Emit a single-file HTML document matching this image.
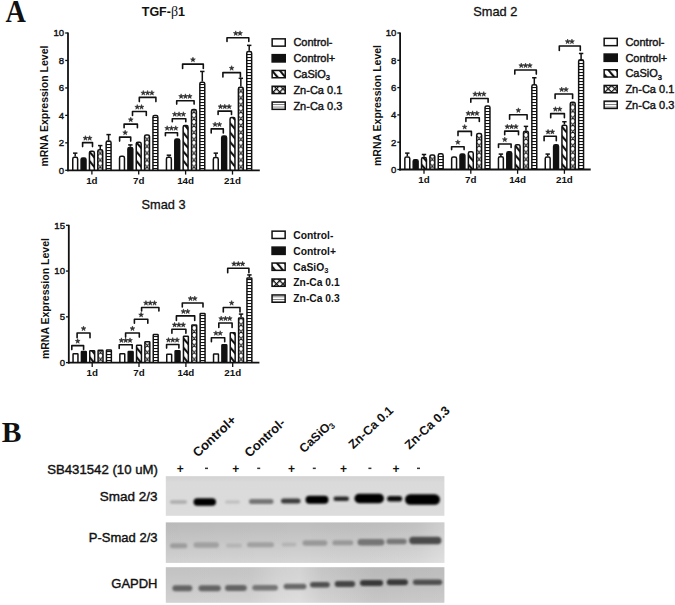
<!DOCTYPE html>
<html><head><meta charset="utf-8"><title>Figure</title>
<style>html,body{margin:0;padding:0;background:#fff;width:675px;height:605px;overflow:hidden}svg{display:block;font-family:"Liberation Sans", sans-serif}</style>
</head><body>
<svg width="675" height="605" viewBox="0 0 675 605">

<defs>
 <pattern id="pdiag" patternUnits="userSpaceOnUse" width="6" height="6" patternTransform="rotate(-40)">
  <rect width="6" height="6" fill="#fff"/><rect x="0" y="0" width="2.1" height="6" fill="#111"/>
 </pattern>
 <pattern id="pcross" patternUnits="userSpaceOnUse" width="4.6" height="4.6" patternTransform="rotate(45)">
  <rect width="4.6" height="4.6" fill="#fff"/><rect x="0" y="0" width="1.7" height="4.6" fill="#111"/><rect x="0" y="0" width="4.6" height="1.7" fill="#111"/>
 </pattern>
 <pattern id="phstr" patternUnits="userSpaceOnUse" width="10" height="3.0">
  <rect width="10" height="3.0" fill="#fff"/><rect x="0" y="0" width="10" height="1.05" fill="#111"/>
 </pattern>
 <pattern id="pldiag" patternUnits="userSpaceOnUse" width="6" height="6" patternTransform="rotate(-40)">
  <rect width="6" height="6" fill="#fff"/><rect x="0" y="0" width="2.1" height="6" fill="#111"/>
 </pattern>
 <pattern id="plcross" patternUnits="userSpaceOnUse" width="4.6" height="4.6" patternTransform="rotate(45)">
  <rect width="4.6" height="4.6" fill="#fff"/><rect x="0" y="0" width="1.3" height="4.6" fill="#111"/><rect x="0" y="0" width="4.6" height="1.3" fill="#111"/>
 </pattern>
 <pattern id="plhstr" patternUnits="userSpaceOnUse" width="10" height="2.6">
  <rect width="10" height="2.6" fill="#fff"/><rect x="0" y="0" width="10" height="0.9" fill="#777"/>
 </pattern>
 <linearGradient id="g1" x1="0" y1="0" x2="0" y2="1">
  <stop offset="0" stop-color="#d2d2d2"/><stop offset="0.15" stop-color="#dadada"/><stop offset="1" stop-color="#dcdcdc"/>
 </linearGradient>
 <linearGradient id="g2" x1="0" y1="0" x2="0" y2="1">
  <stop offset="0" stop-color="#bdbdbd"/><stop offset="0.5" stop-color="#c9c9c9"/><stop offset="1" stop-color="#d6d6d6"/>
 </linearGradient>
 <linearGradient id="g3" x1="0" y1="0" x2="0" y2="1">
  <stop offset="0" stop-color="#c2c2c2"/><stop offset="0.6" stop-color="#cacaca"/><stop offset="1" stop-color="#d2d2d2"/>
 </linearGradient>
 <linearGradient id="h3" x1="0" y1="0" x2="1" y2="0">
  <stop offset="0" stop-color="#fff" stop-opacity="0"/><stop offset="0.3" stop-color="#fff" stop-opacity="0.03"/>
  <stop offset="0.4" stop-color="#fff" stop-opacity="0.22"/><stop offset="0.48" stop-color="#fff" stop-opacity="0.28"/>
  <stop offset="0.56" stop-color="#fff" stop-opacity="0.04"/><stop offset="0.75" stop-color="#000" stop-opacity="0.05"/>
  <stop offset="1" stop-color="#000" stop-opacity="0.03"/>
 </linearGradient>
 <linearGradient id="h2" x1="0" y1="0" x2="1" y2="0">
  <stop offset="0" stop-color="#000" stop-opacity="0.02"/><stop offset="0.5" stop-color="#000" stop-opacity="0"/>
  <stop offset="0.9" stop-color="#fff" stop-opacity="0.05"/><stop offset="1" stop-color="#fff" stop-opacity="0.25"/>
 </linearGradient>
 <filter id="blur1" x="-10%" y="-50%" width="120%" height="200%"><feGaussianBlur stdDeviation="1.3"/></filter>
<pattern id="cx1" patternUnits="userSpaceOnUse" x="97.05" y="170.3" width="6.4" height="6.9"><rect width="6.4" height="6.9" fill="#fff"/><path d="M0 0L6.4 6.9M6.4 0L0 6.9M-1 -1L1 1M5.4 5.9L7.4 7.9" stroke="#111" stroke-width="0.95"/></pattern>
<pattern id="cx2" patternUnits="userSpaceOnUse" x="143.85" y="170.3" width="6.4" height="6.9"><rect width="6.4" height="6.9" fill="#fff"/><path d="M0 0L6.4 6.9M6.4 0L0 6.9M-1 -1L1 1M5.4 5.9L7.4 7.9" stroke="#111" stroke-width="0.95"/></pattern>
<pattern id="cx3" patternUnits="userSpaceOnUse" x="190.75" y="170.3" width="6.4" height="6.9"><rect width="6.4" height="6.9" fill="#fff"/><path d="M0 0L6.4 6.9M6.4 0L0 6.9M-1 -1L1 1M5.4 5.9L7.4 7.9" stroke="#111" stroke-width="0.95"/></pattern>
<pattern id="cx4" patternUnits="userSpaceOnUse" x="237.65" y="170.3" width="6.4" height="6.9"><rect width="6.4" height="6.9" fill="#fff"/><path d="M0 0L6.4 6.9M6.4 0L0 6.9M-1 -1L1 1M5.4 5.9L7.4 7.9" stroke="#111" stroke-width="0.95"/></pattern>
<pattern id="cx5" patternUnits="userSpaceOnUse" x="429.15" y="169.5" width="6.4" height="6.9"><rect width="6.4" height="6.9" fill="#fff"/><path d="M0 0L6.4 6.9M6.4 0L0 6.9M-1 -1L1 1M5.4 5.9L7.4 7.9" stroke="#111" stroke-width="0.95"/></pattern>
<pattern id="cx6" patternUnits="userSpaceOnUse" x="475.95" y="169.5" width="6.4" height="6.9"><rect width="6.4" height="6.9" fill="#fff"/><path d="M0 0L6.4 6.9M6.4 0L0 6.9M-1 -1L1 1M5.4 5.9L7.4 7.9" stroke="#111" stroke-width="0.95"/></pattern>
<pattern id="cx7" patternUnits="userSpaceOnUse" x="522.75" y="169.5" width="6.4" height="6.9"><rect width="6.4" height="6.9" fill="#fff"/><path d="M0 0L6.4 6.9M6.4 0L0 6.9M-1 -1L1 1M5.4 5.9L7.4 7.9" stroke="#111" stroke-width="0.95"/></pattern>
<pattern id="cx8" patternUnits="userSpaceOnUse" x="569.55" y="169.5" width="6.4" height="6.9"><rect width="6.4" height="6.9" fill="#fff"/><path d="M0 0L6.4 6.9M6.4 0L0 6.9M-1 -1L1 1M5.4 5.9L7.4 7.9" stroke="#111" stroke-width="0.95"/></pattern>
<pattern id="cx9" patternUnits="userSpaceOnUse" x="97.35" y="362.6" width="6.4" height="6.9"><rect width="6.4" height="6.9" fill="#fff"/><path d="M0 0L6.4 6.9M6.4 0L0 6.9M-1 -1L1 1M5.4 5.9L7.4 7.9" stroke="#111" stroke-width="0.95"/></pattern>
<pattern id="cx10" patternUnits="userSpaceOnUse" x="144.15" y="362.6" width="6.4" height="6.9"><rect width="6.4" height="6.9" fill="#fff"/><path d="M0 0L6.4 6.9M6.4 0L0 6.9M-1 -1L1 1M5.4 5.9L7.4 7.9" stroke="#111" stroke-width="0.95"/></pattern>
<pattern id="cx11" patternUnits="userSpaceOnUse" x="191.05" y="362.6" width="6.4" height="6.9"><rect width="6.4" height="6.9" fill="#fff"/><path d="M0 0L6.4 6.9M6.4 0L0 6.9M-1 -1L1 1M5.4 5.9L7.4 7.9" stroke="#111" stroke-width="0.95"/></pattern>
<pattern id="cx12" patternUnits="userSpaceOnUse" x="237.85" y="362.6" width="6.4" height="6.9"><rect width="6.4" height="6.9" fill="#fff"/><path d="M0 0L6.4 6.9M6.4 0L0 6.9M-1 -1L1 1M5.4 5.9L7.4 7.9" stroke="#111" stroke-width="0.95"/></pattern></defs>

<rect width="675" height="605" fill="#fff"/>
<text transform="translate(5.4 22.4) scale(0.88 1)" font-family='Liberation Serif' font-size="32" font-weight="bold" fill="#111">A</text>
<text x="1.8" y="441.5" font-family='Liberation Serif' font-size="29.5" font-weight="bold" fill="#111">B</text>
<path d="M75.2 156.57V153.14" stroke="#111" stroke-width="1.5"/><path d="M73 153.14H77.4" stroke="#111" stroke-width="1.5"/><path d="M72.75 170.3V158.92Q72.75 157.32 74.35 157.32H76.05Q77.65 157.32 77.65 158.92V170.3" fill="#fff" stroke="#111" stroke-width="1.5"/><path d="M81.1 170.3V159.61Q81.1 158.01 82.7 158.01H84.4Q86 158.01 86 159.61V170.3" fill="#111" stroke="#111" stroke-width="1.5"/><path d="M89.45 170.3V152.74Q89.45 151.14 91.05 151.14H92.75Q94.35 151.14 94.35 152.74V170.3" fill="url(#pdiag)" stroke="#111" stroke-width="1.5"/><path d="M100.25 149.02V145.59" stroke="#111" stroke-width="1.5"/><path d="M98.05 145.59H102.45" stroke="#111" stroke-width="1.5"/><path d="M97.8 170.3V151.37Q97.8 149.77 99.4 149.77H101.1Q102.7 149.77 102.7 151.37V170.3" fill="url(#cx1)" stroke="#111" stroke-width="1.5"/><path d="M108.6 140.37V134.6" stroke="#111" stroke-width="1.5"/><path d="M106.4 134.6H110.8" stroke="#111" stroke-width="1.5"/><path d="M106.15 170.3V142.72Q106.15 141.12 107.75 141.12H109.45Q111.05 141.12 111.05 142.72V170.3" fill="url(#phstr)" stroke="#111" stroke-width="1.5"/><path d="M119.55 170.3V157.96Q119.55 156.36 121.15 156.36H122.85Q124.45 156.36 124.45 157.96V170.3" fill="#fff" stroke="#111" stroke-width="1.5"/><path d="M130.35 146.68V144.9" stroke="#111" stroke-width="1.5"/><path d="M128.15 144.9H132.55" stroke="#111" stroke-width="1.5"/><path d="M127.9 170.3V149.03Q127.9 147.43 129.5 147.43H131.2Q132.8 147.43 132.8 149.03V170.3" fill="#111" stroke="#111" stroke-width="1.5"/><path d="M136.25 170.3V143.82Q136.25 142.22 137.85 142.22H139.55Q141.15 142.22 141.15 143.82V170.3" fill="url(#pdiag)" stroke="#111" stroke-width="1.5"/><path d="M144.6 170.3V136.54Q144.6 134.94 146.2 134.94H147.9Q149.5 134.94 149.5 136.54V170.3" fill="url(#cx2)" stroke="#111" stroke-width="1.5"/><path d="M152.95 170.3V117.18Q152.95 115.58 154.55 115.58H156.25Q157.85 115.58 157.85 117.18V170.3" fill="url(#phstr)" stroke="#111" stroke-width="1.5"/><path d="M168.9 156.57V155.2" stroke="#111" stroke-width="1.5"/><path d="M166.7 155.2H171.1" stroke="#111" stroke-width="1.5"/><path d="M166.45 170.3V158.92Q166.45 157.32 168.05 157.32H169.75Q171.35 157.32 171.35 158.92V170.3" fill="#fff" stroke="#111" stroke-width="1.5"/><path d="M174.8 170.3V140.52Q174.8 138.92 176.4 138.92H178.1Q179.7 138.92 179.7 140.52V170.3" fill="#111" stroke="#111" stroke-width="1.5"/><path d="M183.15 170.3V127.2Q183.15 125.6 184.75 125.6H186.45Q188.05 125.6 188.05 127.2V170.3" fill="url(#pdiag)" stroke="#111" stroke-width="1.5"/><path d="M191.5 170.3V111.14Q191.5 109.54 193.1 109.54H194.8Q196.4 109.54 196.4 111.14V170.3" fill="url(#cx3)" stroke="#111" stroke-width="1.5"/><path d="M202.3 81.47V71.44" stroke="#111" stroke-width="1.5"/><path d="M200.1 71.44H204.5" stroke="#111" stroke-width="1.5"/><path d="M199.85 170.3V83.82Q199.85 82.22 201.45 82.22H203.15Q204.75 82.22 204.75 83.82V170.3" fill="url(#phstr)" stroke="#111" stroke-width="1.5"/><path d="M215.8 156.84V153.14" stroke="#111" stroke-width="1.5"/><path d="M213.6 153.14H218" stroke="#111" stroke-width="1.5"/><path d="M213.35 170.3V159.19Q213.35 157.59 214.95 157.59H216.65Q218.25 157.59 218.25 159.19V170.3" fill="#fff" stroke="#111" stroke-width="1.5"/><path d="M221.7 170.3V137.64Q221.7 136.04 223.3 136.04H225Q226.6 136.04 226.6 137.64V170.3" fill="#111" stroke="#111" stroke-width="1.5"/><path d="M230.05 170.3V119.1Q230.05 117.5 231.65 117.5H233.35Q234.95 117.5 234.95 119.1V170.3" fill="url(#pdiag)" stroke="#111" stroke-width="1.5"/><path d="M240.85 86.55V78.31" stroke="#111" stroke-width="1.5"/><path d="M238.65 78.31H243.05" stroke="#111" stroke-width="1.5"/><path d="M238.4 170.3V88.9Q238.4 87.3 240 87.3H241.7Q243.3 87.3 243.3 88.9V170.3" fill="url(#cx4)" stroke="#111" stroke-width="1.5"/><path d="M249.2 50.85V45.36" stroke="#111" stroke-width="1.5"/><path d="M247 45.36H251.4" stroke="#111" stroke-width="1.5"/><path d="M246.75 170.3V53.2Q246.75 51.6 248.35 51.6H250.05Q251.65 51.6 251.65 53.2V170.3" fill="url(#phstr)" stroke="#111" stroke-width="1.5"/><path d="M68 32.5V171.2" stroke="#111" stroke-width="1.8"/><path d="M67.1 170.3H259.8" stroke="#111" stroke-width="1.8"/><path d="M65.2 170.3H68" stroke="#111" stroke-width="1.3"/><text x="64.2" y="173.7" text-anchor="end" font-size="9.6" stroke="#111" stroke-width="0.4" fill="#111">0</text><path d="M65.2 142.84H68" stroke="#111" stroke-width="1.3"/><text x="64.2" y="146.24" text-anchor="end" font-size="9.6" stroke="#111" stroke-width="0.4" fill="#111">2</text><path d="M65.2 115.38H68" stroke="#111" stroke-width="1.3"/><text x="64.2" y="118.78" text-anchor="end" font-size="9.6" stroke="#111" stroke-width="0.4" fill="#111">4</text><path d="M65.2 87.92H68" stroke="#111" stroke-width="1.3"/><text x="64.2" y="91.32" text-anchor="end" font-size="9.6" stroke="#111" stroke-width="0.4" fill="#111">6</text><path d="M65.2 60.46H68" stroke="#111" stroke-width="1.3"/><text x="64.2" y="63.86" text-anchor="end" font-size="9.6" stroke="#111" stroke-width="0.4" fill="#111">8</text><path d="M65.2 33H68" stroke="#111" stroke-width="1.3"/><text x="64.2" y="36.4" text-anchor="end" font-size="9.6" stroke="#111" stroke-width="0.4" fill="#111">10</text><path d="M91.9 170.3V174.6" stroke="#111" stroke-width="1.3"/><text x="91.9" y="184.1" text-anchor="middle" font-size="9.8" font-weight="bold" fill="#111">1d</text><path d="M138.7 170.3V174.6" stroke="#111" stroke-width="1.3"/><text x="138.7" y="184.1" text-anchor="middle" font-size="9.8" font-weight="bold" fill="#111">7d</text><path d="M185.6 170.3V174.6" stroke="#111" stroke-width="1.3"/><text x="185.6" y="184.1" text-anchor="middle" font-size="9.8" font-weight="bold" fill="#111">14d</text><path d="M232.5 170.3V174.6" stroke="#111" stroke-width="1.3"/><text x="232.5" y="184.1" text-anchor="middle" font-size="9.8" font-weight="bold" fill="#111">21d</text><text transform="translate(48.2 106.1) rotate(-90)" text-anchor="middle" font-size="10.5" font-weight="bold" fill="#111">mRNA Expression Level</text><path d="M82.6 146.6V142.6H92.5V146.6" fill="none" stroke="#111" stroke-width="1.6" stroke-linejoin="round" stroke-linecap="round"/><polygon points="85.4,135.65 86,137.37 87.83,137.41 86.37,138.52 86.9,140.26 85.4,139.22 83.9,140.26 84.43,138.52 82.97,137.41 84.8,137.37" fill="#333" stroke="#222" stroke-width="0.5"/><polygon points="89.7,135.65 90.3,137.37 92.13,137.41 90.67,138.52 91.2,140.26 89.7,139.22 88.2,140.26 88.73,138.52 87.27,137.41 89.1,137.37" fill="#333" stroke="#222" stroke-width="0.5"/><path d="M119.6 141.1V137.1H130.7V141.1" fill="none" stroke="#111" stroke-width="1.6" stroke-linejoin="round" stroke-linecap="round"/><polygon points="125.15,130.15 125.75,131.87 127.58,131.91 126.12,133.02 126.65,134.76 125.15,133.72 123.65,134.76 124.18,133.02 122.72,131.91 124.55,131.87" fill="#333" stroke="#222" stroke-width="0.5"/><path d="M124.1 127.8V124.1H137.4V127.8" fill="none" stroke="#111" stroke-width="1.6" stroke-linejoin="round" stroke-linecap="round"/><polygon points="130.75,117.15 131.35,118.87 133.18,118.91 131.72,120.02 132.25,121.76 130.75,120.72 129.25,121.76 129.78,120.02 128.32,118.91 130.15,118.87" fill="#333" stroke="#222" stroke-width="0.5"/><path d="M132.5 115.5V111.5H146.3V115.5" fill="none" stroke="#111" stroke-width="1.6" stroke-linejoin="round" stroke-linecap="round"/><polygon points="137.25,104.55 137.85,106.27 139.68,106.31 138.22,107.42 138.75,109.16 137.25,108.12 135.75,109.16 136.28,107.42 134.82,106.31 136.65,106.27" fill="#333" stroke="#222" stroke-width="0.5"/><polygon points="141.55,104.55 142.15,106.27 143.98,106.31 142.52,107.42 143.05,109.16 141.55,108.12 140.05,109.16 140.58,107.42 139.12,106.31 140.95,106.27" fill="#333" stroke="#222" stroke-width="0.5"/><path d="M139.3 101.6V97.4H155.9V101.6" fill="none" stroke="#111" stroke-width="1.6" stroke-linejoin="round" stroke-linecap="round"/><polygon points="143.3,90.45 143.9,92.17 145.73,92.21 144.27,93.32 144.8,95.06 143.3,94.02 141.8,95.06 142.33,93.32 140.87,92.21 142.7,92.17" fill="#333" stroke="#222" stroke-width="0.5"/><polygon points="147.6,90.45 148.2,92.17 150.03,92.21 148.57,93.32 149.1,95.06 147.6,94.02 146.1,95.06 146.63,93.32 145.17,92.21 147,92.17" fill="#333" stroke="#222" stroke-width="0.5"/><polygon points="151.9,90.45 152.5,92.17 154.33,92.21 152.87,93.32 153.4,95.06 151.9,94.02 150.4,95.06 150.93,93.32 149.47,92.21 151.3,92.17" fill="#333" stroke="#222" stroke-width="0.5"/><path d="M165.4 135.8V132.7H177.5V135.8" fill="none" stroke="#111" stroke-width="1.6" stroke-linejoin="round" stroke-linecap="round"/><polygon points="167.15,125.75 167.75,127.47 169.58,127.51 168.12,128.62 168.65,130.36 167.15,129.32 165.65,130.36 166.18,128.62 164.72,127.51 166.55,127.47" fill="#333" stroke="#222" stroke-width="0.5"/><polygon points="171.45,125.75 172.05,127.47 173.88,127.51 172.42,128.62 172.95,130.36 171.45,129.32 169.95,130.36 170.48,128.62 169.02,127.51 170.85,127.47" fill="#333" stroke="#222" stroke-width="0.5"/><polygon points="175.75,125.75 176.35,127.47 178.18,127.51 176.72,128.62 177.25,130.36 175.75,129.32 174.25,130.36 174.78,128.62 173.32,127.51 175.15,127.47" fill="#333" stroke="#222" stroke-width="0.5"/><path d="M172.3 121.8V118.7H185.8V121.8" fill="none" stroke="#111" stroke-width="1.6" stroke-linejoin="round" stroke-linecap="round"/><polygon points="174.75,111.75 175.35,113.47 177.18,113.51 175.72,114.62 176.25,116.36 174.75,115.32 173.25,116.36 173.78,114.62 172.32,113.51 174.15,113.47" fill="#333" stroke="#222" stroke-width="0.5"/><polygon points="179.05,111.75 179.65,113.47 181.48,113.51 180.02,114.62 180.55,116.36 179.05,115.32 177.55,116.36 178.08,114.62 176.62,113.51 178.45,113.47" fill="#333" stroke="#222" stroke-width="0.5"/><polygon points="183.35,111.75 183.95,113.47 185.78,113.51 184.32,114.62 184.85,116.36 183.35,115.32 181.85,116.36 182.38,114.62 180.92,113.51 182.75,113.47" fill="#333" stroke="#222" stroke-width="0.5"/><path d="M176.7 104.1V100.8H194.1V104.1" fill="none" stroke="#111" stroke-width="1.6" stroke-linejoin="round" stroke-linecap="round"/><polygon points="181.1,93.85 181.7,95.57 183.53,95.61 182.07,96.72 182.6,98.46 181.1,97.42 179.6,98.46 180.13,96.72 178.67,95.61 180.5,95.57" fill="#333" stroke="#222" stroke-width="0.5"/><polygon points="185.4,93.85 186,95.57 187.83,95.61 186.37,96.72 186.9,98.46 185.4,97.42 183.9,98.46 184.43,96.72 182.97,95.61 184.8,95.57" fill="#333" stroke="#222" stroke-width="0.5"/><polygon points="189.7,93.85 190.3,95.57 192.13,95.61 190.67,96.72 191.2,98.46 189.7,97.42 188.2,98.46 188.73,96.72 187.27,95.61 189.1,95.57" fill="#333" stroke="#222" stroke-width="0.5"/><path d="M182.6 68.5V64.1H203.3V68.5" fill="none" stroke="#111" stroke-width="1.6" stroke-linejoin="round" stroke-linecap="round"/><polygon points="192.95,57.15 193.55,58.87 195.38,58.91 193.92,60.02 194.45,61.76 192.95,60.72 191.45,61.76 191.98,60.02 190.52,58.91 192.35,58.87" fill="#333" stroke="#222" stroke-width="0.5"/><path d="M211.2 132.9V128.9H223.3V132.9" fill="none" stroke="#111" stroke-width="1.6" stroke-linejoin="round" stroke-linecap="round"/><polygon points="215.1,121.95 215.7,123.67 217.53,123.71 216.07,124.82 216.6,126.56 215.1,125.52 213.6,126.56 214.13,124.82 212.67,123.71 214.5,123.67" fill="#333" stroke="#222" stroke-width="0.5"/><polygon points="219.4,121.95 220,123.67 221.83,123.71 220.37,124.82 220.9,126.56 219.4,125.52 217.9,126.56 218.43,124.82 216.97,123.71 218.8,123.67" fill="#333" stroke="#222" stroke-width="0.5"/><path d="M218.1 114.5V111.1H231.5V114.5" fill="none" stroke="#111" stroke-width="1.6" stroke-linejoin="round" stroke-linecap="round"/><polygon points="220.5,104.15 221.1,105.87 222.93,105.91 221.47,107.02 222,108.76 220.5,107.72 219,108.76 219.53,107.02 218.07,105.91 219.9,105.87" fill="#333" stroke="#222" stroke-width="0.5"/><polygon points="224.8,104.15 225.4,105.87 227.23,105.91 225.77,107.02 226.3,108.76 224.8,107.72 223.3,108.76 223.83,107.02 222.37,105.91 224.2,105.87" fill="#333" stroke="#222" stroke-width="0.5"/><polygon points="229.1,104.15 229.7,105.87 231.53,105.91 230.07,107.02 230.6,108.76 229.1,107.72 227.6,108.76 228.13,107.02 226.67,105.91 228.5,105.87" fill="#333" stroke="#222" stroke-width="0.5"/><path d="M222.9 77V72.6H240.4V77" fill="none" stroke="#111" stroke-width="1.6" stroke-linejoin="round" stroke-linecap="round"/><polygon points="231.65,65.65 232.25,67.37 234.08,67.41 232.62,68.52 233.15,70.26 231.65,69.22 230.15,70.26 230.68,68.52 229.22,67.41 231.05,67.37" fill="#333" stroke="#222" stroke-width="0.5"/><path d="M227 41.5V37.8H248.8V41.5" fill="none" stroke="#111" stroke-width="1.6" stroke-linejoin="round" stroke-linecap="round"/><polygon points="235.75,30.85 236.35,32.57 238.18,32.61 236.72,33.72 237.25,35.46 235.75,34.42 234.25,35.46 234.78,33.72 233.32,32.61 235.15,32.57" fill="#333" stroke="#222" stroke-width="0.5"/><polygon points="240.05,30.85 240.65,32.57 242.48,32.61 241.02,33.72 241.55,35.46 240.05,34.42 238.55,35.46 239.08,33.72 237.62,32.61 239.45,32.57" fill="#333" stroke="#222" stroke-width="0.5"/><text x="163.4" y="16" text-anchor="middle" fill="#111" font-size="12.5" font-weight="bold">TGF-<tspan font-family="Liberation Serif" font-weight="normal" font-size="14">&#946;</tspan>1</text><rect x="272.15" y="38.85" width="13.1" height="7.3" fill="#fff" stroke="#111" stroke-width="1.5"/><text x="293.4" y="46.3" fill="#111" font-size="11" stroke="#111" stroke-width="0.4">Control-</text><rect x="272.15" y="54.65" width="13.1" height="7.3" fill="#111" stroke="#111" stroke-width="1.5"/><text x="293.4" y="62.1" fill="#111" font-size="11" stroke="#111" stroke-width="0.4">Control+</text><rect x="272.15" y="70.45" width="13.1" height="7.3" fill="url(#pldiag)" stroke="#111" stroke-width="1.5"/><text x="293.4" y="77.9" fill="#111" font-size="11" stroke="#111" stroke-width="0.4">CaSiO<tspan font-size="7.5" dy="2.5">3</tspan></text><rect x="272.15" y="86.25" width="13.1" height="7.3" fill="url(#plcross)" stroke="#111" stroke-width="1.5"/><text x="293.4" y="93.7" fill="#111" font-size="11" stroke="#111" stroke-width="0.4">Zn-Ca 0.1</text><rect x="272.15" y="102.05" width="13.1" height="7.3" fill="url(#plhstr)" stroke="#111" stroke-width="1.5"/><text x="293.4" y="109.5" fill="#111" font-size="11" stroke="#111" stroke-width="0.4">Zn-Ca 0.3</text>
<path d="M407.3 156.26V153.12" stroke="#111" stroke-width="1.5"/><path d="M405.1 153.12H409.5" stroke="#111" stroke-width="1.5"/><path d="M404.85 169.5V158.61Q404.85 157.01 406.45 157.01H408.15Q409.75 157.01 409.75 158.61V169.5" fill="#fff" stroke="#111" stroke-width="1.5"/><path d="M413.2 169.5V161.34Q413.2 159.74 414.8 159.74H416.5Q418.1 159.74 418.1 161.34V169.5" fill="#111" stroke="#111" stroke-width="1.5"/><path d="M424 156.81V154.48" stroke="#111" stroke-width="1.5"/><path d="M421.8 154.48H426.2" stroke="#111" stroke-width="1.5"/><path d="M421.55 169.5V159.16Q421.55 157.56 423.15 157.56H424.85Q426.45 157.56 426.45 159.16V169.5" fill="url(#pdiag)" stroke="#111" stroke-width="1.5"/><path d="M429.9 169.5V156.56Q429.9 154.96 431.5 154.96H433.2Q434.8 154.96 434.8 156.56V169.5" fill="url(#cx5)" stroke="#111" stroke-width="1.5"/><path d="M438.25 169.5V155.47Q438.25 153.87 439.85 153.87H441.55Q443.15 153.87 443.15 155.47V169.5" fill="url(#phstr)" stroke="#111" stroke-width="1.5"/><path d="M451.65 169.5V158.61Q451.65 157.01 453.25 157.01H454.95Q456.55 157.01 456.55 158.61V169.5" fill="#fff" stroke="#111" stroke-width="1.5"/><path d="M460 169.5V155.61Q460 154.01 461.6 154.01H463.3Q464.9 154.01 464.9 155.61V169.5" fill="#111" stroke="#111" stroke-width="1.5"/><path d="M468.35 169.5V153.42Q468.35 151.82 469.95 151.82H471.65Q473.25 151.82 473.25 153.42V169.5" fill="url(#pdiag)" stroke="#111" stroke-width="1.5"/><path d="M476.7 169.5V134.99Q476.7 133.39 478.3 133.39H480Q481.6 133.39 481.6 134.99V169.5" fill="url(#cx6)" stroke="#111" stroke-width="1.5"/><path d="M485.05 169.5V107.56Q485.05 105.96 486.65 105.96H488.35Q489.95 105.96 489.95 107.56V169.5" fill="url(#phstr)" stroke="#111" stroke-width="1.5"/><path d="M500.9 155.99V154.08" stroke="#111" stroke-width="1.5"/><path d="M498.7 154.08H503.1" stroke="#111" stroke-width="1.5"/><path d="M498.45 169.5V158.34Q498.45 156.74 500.05 156.74H501.75Q503.35 156.74 503.35 158.34V169.5" fill="#fff" stroke="#111" stroke-width="1.5"/><path d="M506.8 169.5V153.42Q506.8 151.82 508.4 151.82H510.1Q511.7 151.82 511.7 153.42V169.5" fill="#111" stroke="#111" stroke-width="1.5"/><path d="M515.15 169.5V146.32Q515.15 144.72 516.75 144.72H518.45Q520.05 144.72 520.05 146.32V169.5" fill="url(#pdiag)" stroke="#111" stroke-width="1.5"/><path d="M525.95 130.46V126.37" stroke="#111" stroke-width="1.5"/><path d="M523.75 126.37H528.15" stroke="#111" stroke-width="1.5"/><path d="M523.5 169.5V132.81Q523.5 131.21 525.1 131.21H526.8Q528.4 131.21 528.4 132.81V169.5" fill="url(#cx7)" stroke="#111" stroke-width="1.5"/><path d="M534.3 84.05V77.77" stroke="#111" stroke-width="1.5"/><path d="M532.1 77.77H536.5" stroke="#111" stroke-width="1.5"/><path d="M531.85 169.5V86.4Q531.85 84.8 533.45 84.8H535.15Q536.75 84.8 536.75 86.4V169.5" fill="url(#phstr)" stroke="#111" stroke-width="1.5"/><path d="M547.7 156.26V154.08" stroke="#111" stroke-width="1.5"/><path d="M545.5 154.08H549.9" stroke="#111" stroke-width="1.5"/><path d="M545.25 169.5V158.61Q545.25 157.01 546.85 157.01H548.55Q550.15 157.01 550.15 158.61V169.5" fill="#fff" stroke="#111" stroke-width="1.5"/><path d="M553.6 169.5V146.46Q553.6 144.86 555.2 144.86H556.9Q558.5 144.86 558.5 146.46V169.5" fill="#111" stroke="#111" stroke-width="1.5"/><path d="M564.4 124.45V121.72" stroke="#111" stroke-width="1.5"/><path d="M562.2 121.72H566.6" stroke="#111" stroke-width="1.5"/><path d="M561.95 169.5V126.8Q561.95 125.2 563.55 125.2H565.25Q566.85 125.2 566.85 126.8V169.5" fill="url(#pdiag)" stroke="#111" stroke-width="1.5"/><path d="M570.3 169.5V103.87Q570.3 102.27 571.9 102.27H573.6Q575.2 102.27 575.2 103.87V169.5" fill="url(#cx8)" stroke="#111" stroke-width="1.5"/><path d="M581.1 58.94V53.47" stroke="#111" stroke-width="1.5"/><path d="M578.9 53.47H583.3" stroke="#111" stroke-width="1.5"/><path d="M578.65 169.5V61.29Q578.65 59.69 580.25 59.69H581.95Q583.55 59.69 583.55 61.29V169.5" fill="url(#phstr)" stroke="#111" stroke-width="1.5"/><path d="M400.1 32.5V170.4" stroke="#111" stroke-width="1.8"/><path d="M399.2 169.5H590.7" stroke="#111" stroke-width="1.8"/><path d="M397.3 169.5H400.1" stroke="#111" stroke-width="1.3"/><text x="396.3" y="172.9" text-anchor="end" font-size="9.6" stroke="#111" stroke-width="0.4" fill="#111">0</text><path d="M397.3 142.2H400.1" stroke="#111" stroke-width="1.3"/><text x="396.3" y="145.6" text-anchor="end" font-size="9.6" stroke="#111" stroke-width="0.4" fill="#111">2</text><path d="M397.3 114.9H400.1" stroke="#111" stroke-width="1.3"/><text x="396.3" y="118.3" text-anchor="end" font-size="9.6" stroke="#111" stroke-width="0.4" fill="#111">4</text><path d="M397.3 87.6H400.1" stroke="#111" stroke-width="1.3"/><text x="396.3" y="91" text-anchor="end" font-size="9.6" stroke="#111" stroke-width="0.4" fill="#111">6</text><path d="M397.3 60.3H400.1" stroke="#111" stroke-width="1.3"/><text x="396.3" y="63.7" text-anchor="end" font-size="9.6" stroke="#111" stroke-width="0.4" fill="#111">8</text><path d="M397.3 33H400.1" stroke="#111" stroke-width="1.3"/><text x="396.3" y="36.4" text-anchor="end" font-size="9.6" stroke="#111" stroke-width="0.4" fill="#111">10</text><path d="M424 169.5V173.8" stroke="#111" stroke-width="1.3"/><text x="424" y="183.3" text-anchor="middle" font-size="9.8" font-weight="bold" fill="#111">1d</text><path d="M470.8 169.5V173.8" stroke="#111" stroke-width="1.3"/><text x="470.8" y="183.3" text-anchor="middle" font-size="9.8" font-weight="bold" fill="#111">7d</text><path d="M517.6 169.5V173.8" stroke="#111" stroke-width="1.3"/><text x="517.6" y="183.3" text-anchor="middle" font-size="9.8" font-weight="bold" fill="#111">14d</text><path d="M564.4 169.5V173.8" stroke="#111" stroke-width="1.3"/><text x="564.4" y="183.3" text-anchor="middle" font-size="9.8" font-weight="bold" fill="#111">21d</text><text transform="translate(380.5 105.5) rotate(-90)" text-anchor="middle" font-size="10.5" font-weight="bold" fill="#111">mRNA Expression Level</text><path d="M451.6 149.6V146.7H464.1V149.6" fill="none" stroke="#111" stroke-width="1.6" stroke-linejoin="round" stroke-linecap="round"/><polygon points="457.85,139.75 458.45,141.47 460.28,141.51 458.82,142.62 459.35,144.36 457.85,143.32 456.35,144.36 456.88,142.62 455.42,141.51 457.25,141.47" fill="#333" stroke="#222" stroke-width="0.5"/><path d="M458 135.6V131.4H471.4V135.6" fill="none" stroke="#111" stroke-width="1.6" stroke-linejoin="round" stroke-linecap="round"/><polygon points="464.7,124.45 465.3,126.17 467.13,126.21 465.67,127.32 466.2,129.06 464.7,128.02 463.2,129.06 463.73,127.32 462.27,126.21 464.1,126.17" fill="#333" stroke="#222" stroke-width="0.5"/><path d="M465.9 121.5V117.8H479.3V121.5" fill="none" stroke="#111" stroke-width="1.6" stroke-linejoin="round" stroke-linecap="round"/><polygon points="468.3,110.85 468.9,112.57 470.73,112.61 469.27,113.72 469.8,115.46 468.3,114.42 466.8,115.46 467.33,113.72 465.87,112.61 467.7,112.57" fill="#333" stroke="#222" stroke-width="0.5"/><polygon points="472.6,110.85 473.2,112.57 475.03,112.61 473.57,113.72 474.1,115.46 472.6,114.42 471.1,115.46 471.63,113.72 470.17,112.61 472,112.57" fill="#333" stroke="#222" stroke-width="0.5"/><polygon points="476.9,110.85 477.5,112.57 479.33,112.61 477.87,113.72 478.4,115.46 476.9,114.42 475.4,115.46 475.93,113.72 474.47,112.61 476.3,112.57" fill="#333" stroke="#222" stroke-width="0.5"/><path d="M470.8 102.2V98.5H488.1V102.2" fill="none" stroke="#111" stroke-width="1.6" stroke-linejoin="round" stroke-linecap="round"/><polygon points="475.15,91.55 475.75,93.27 477.58,93.31 476.12,94.42 476.65,96.16 475.15,95.12 473.65,96.16 474.18,94.42 472.72,93.31 474.55,93.27" fill="#333" stroke="#222" stroke-width="0.5"/><polygon points="479.45,91.55 480.05,93.27 481.88,93.31 480.42,94.42 480.95,96.16 479.45,95.12 477.95,96.16 478.48,94.42 477.02,93.31 478.85,93.27" fill="#333" stroke="#222" stroke-width="0.5"/><polygon points="483.75,91.55 484.35,93.27 486.18,93.31 484.72,94.42 485.25,96.16 483.75,95.12 482.25,96.16 482.78,94.42 481.32,93.31 483.15,93.27" fill="#333" stroke="#222" stroke-width="0.5"/><path d="M498.5 147.5V144H511.1V147.5" fill="none" stroke="#111" stroke-width="1.6" stroke-linejoin="round" stroke-linecap="round"/><polygon points="504.8,137.05 505.4,138.77 507.23,138.81 505.77,139.92 506.3,141.66 504.8,140.62 503.3,141.66 503.83,139.92 502.37,138.81 504.2,138.77" fill="#333" stroke="#222" stroke-width="0.5"/><path d="M504.7 134.8V131.1H518.5V134.8" fill="none" stroke="#111" stroke-width="1.6" stroke-linejoin="round" stroke-linecap="round"/><polygon points="507.3,124.15 507.9,125.87 509.73,125.91 508.27,127.02 508.8,128.76 507.3,127.72 505.8,128.76 506.33,127.02 504.87,125.91 506.7,125.87" fill="#333" stroke="#222" stroke-width="0.5"/><polygon points="511.6,124.15 512.2,125.87 514.03,125.91 512.57,127.02 513.1,128.76 511.6,127.72 510.1,128.76 510.63,127.02 509.17,125.91 511,125.87" fill="#333" stroke="#222" stroke-width="0.5"/><polygon points="515.9,124.15 516.5,125.87 518.33,125.91 516.87,127.02 517.4,128.76 515.9,127.72 514.4,128.76 514.93,127.02 513.47,125.91 515.3,125.87" fill="#333" stroke="#222" stroke-width="0.5"/><path d="M509.6 119.3V114.8H527.1V119.3" fill="none" stroke="#111" stroke-width="1.6" stroke-linejoin="round" stroke-linecap="round"/><polygon points="518.35,107.85 518.95,109.57 520.78,109.61 519.32,110.72 519.85,112.46 518.35,111.42 516.85,112.46 517.38,110.72 515.92,109.61 517.75,109.57" fill="#333" stroke="#222" stroke-width="0.5"/><path d="M514.8 74.1V70H536.3V74.1" fill="none" stroke="#111" stroke-width="1.6" stroke-linejoin="round" stroke-linecap="round"/><polygon points="521.25,63.05 521.85,64.77 523.68,64.81 522.22,65.92 522.75,67.66 521.25,66.62 519.75,67.66 520.28,65.92 518.82,64.81 520.65,64.77" fill="#333" stroke="#222" stroke-width="0.5"/><polygon points="525.55,63.05 526.15,64.77 527.98,64.81 526.52,65.92 527.05,67.66 525.55,66.62 524.05,67.66 524.58,65.92 523.12,64.81 524.95,64.77" fill="#333" stroke="#222" stroke-width="0.5"/><polygon points="529.85,63.05 530.45,64.77 532.28,64.81 530.82,65.92 531.35,67.66 529.85,66.62 528.35,67.66 528.88,65.92 527.42,64.81 529.25,64.77" fill="#333" stroke="#222" stroke-width="0.5"/><path d="M544.1 140.7V136.3H556.3V140.7" fill="none" stroke="#111" stroke-width="1.6" stroke-linejoin="round" stroke-linecap="round"/><polygon points="548.05,129.35 548.65,131.07 550.48,131.11 549.02,132.22 549.55,133.96 548.05,132.92 546.55,133.96 547.08,132.22 545.62,131.11 547.45,131.07" fill="#333" stroke="#222" stroke-width="0.5"/><polygon points="552.35,129.35 552.95,131.07 554.78,131.11 553.32,132.22 553.85,133.96 552.35,132.92 550.85,133.96 551.38,132.22 549.92,131.11 551.75,131.07" fill="#333" stroke="#222" stroke-width="0.5"/><path d="M550.7 117.8V113.6H564.4V117.8" fill="none" stroke="#111" stroke-width="1.6" stroke-linejoin="round" stroke-linecap="round"/><polygon points="555.4,106.65 556,108.37 557.83,108.41 556.37,109.52 556.9,111.26 555.4,110.22 553.9,111.26 554.43,109.52 552.97,108.41 554.8,108.37" fill="#333" stroke="#222" stroke-width="0.5"/><polygon points="559.7,106.65 560.3,108.37 562.13,108.41 560.67,109.52 561.2,111.26 559.7,110.22 558.2,111.26 558.73,109.52 557.27,108.41 559.1,108.37" fill="#333" stroke="#222" stroke-width="0.5"/><path d="M555.1 98.4V94H572.6V98.4" fill="none" stroke="#111" stroke-width="1.6" stroke-linejoin="round" stroke-linecap="round"/><polygon points="561.7,87.05 562.3,88.77 564.13,88.81 562.67,89.92 563.2,91.66 561.7,90.62 560.2,91.66 560.73,89.92 559.27,88.81 561.1,88.77" fill="#333" stroke="#222" stroke-width="0.5"/><polygon points="566,87.05 566.6,88.77 568.43,88.81 566.97,89.92 567.5,91.66 566,90.62 564.5,91.66 565.03,89.92 563.57,88.81 565.4,88.77" fill="#333" stroke="#222" stroke-width="0.5"/><path d="M559.3 50.4V46H580.3V50.4" fill="none" stroke="#111" stroke-width="1.6" stroke-linejoin="round" stroke-linecap="round"/><polygon points="567.65,39.05 568.25,40.77 570.08,40.81 568.62,41.92 569.15,43.66 567.65,42.62 566.15,43.66 566.68,41.92 565.22,40.81 567.05,40.77" fill="#333" stroke="#222" stroke-width="0.5"/><polygon points="571.95,39.05 572.55,40.77 574.38,40.81 572.92,41.92 573.45,43.66 571.95,42.62 570.45,43.66 570.98,41.92 569.52,40.81 571.35,40.77" fill="#333" stroke="#222" stroke-width="0.5"/><text x="495.3" y="15.8" text-anchor="middle" fill="#111" font-size="12.8" stroke="#111" stroke-width="0.3">Smad 2</text><rect x="604.15" y="38.35" width="13.1" height="7.3" fill="#fff" stroke="#111" stroke-width="1.5"/><text x="625.4" y="45.8" fill="#111" font-size="11" stroke="#111" stroke-width="0.4">Control-</text><rect x="604.15" y="54.05" width="13.1" height="7.3" fill="#111" stroke="#111" stroke-width="1.5"/><text x="625.4" y="61.5" fill="#111" font-size="11" stroke="#111" stroke-width="0.4">Control+</text><rect x="604.15" y="69.75" width="13.1" height="7.3" fill="url(#pldiag)" stroke="#111" stroke-width="1.5"/><text x="625.4" y="77.2" fill="#111" font-size="11" stroke="#111" stroke-width="0.4">CaSiO<tspan font-size="7.5" dy="2.5">3</tspan></text><rect x="604.15" y="85.45" width="13.1" height="7.3" fill="url(#plcross)" stroke="#111" stroke-width="1.5"/><text x="625.4" y="92.9" fill="#111" font-size="11" stroke="#111" stroke-width="0.4">Zn-Ca 0.1</text><rect x="604.15" y="101.15" width="13.1" height="7.3" fill="url(#plhstr)" stroke="#111" stroke-width="1.5"/><text x="625.4" y="108.6" fill="#111" font-size="11" stroke="#111" stroke-width="0.4">Zn-Ca 0.3</text>
<path d="M73.05 362.6V354.34Q73.05 353.74 73.65 353.74H77.35Q77.95 353.74 77.95 354.34V362.6" fill="#fff" stroke="#111" stroke-width="1.5"/><path d="M81.4 362.6V352.05Q81.4 351.45 82 351.45H85.7Q86.3 351.45 86.3 352.05V362.6" fill="#111" stroke="#111" stroke-width="1.5"/><path d="M89.75 362.6V351.32Q89.75 350.72 90.35 350.72H94.05Q94.65 350.72 94.65 351.32V362.6" fill="url(#pdiag)" stroke="#111" stroke-width="1.5"/><path d="M98.1 362.6V350.95Q98.1 350.35 98.7 350.35H102.4Q103 350.35 103 350.95V362.6" fill="url(#cx9)" stroke="#111" stroke-width="1.5"/><path d="M106.45 362.6V350.59Q106.45 349.99 107.05 349.99H110.75Q111.35 349.99 111.35 350.59V362.6" fill="url(#phstr)" stroke="#111" stroke-width="1.5"/><path d="M119.85 362.6V354.34Q119.85 353.74 120.45 353.74H124.15Q124.75 353.74 124.75 354.34V362.6" fill="#fff" stroke="#111" stroke-width="1.5"/><path d="M128.2 362.6V352.05Q128.2 351.45 128.8 351.45H132.5Q133.1 351.45 133.1 352.05V362.6" fill="#111" stroke="#111" stroke-width="1.5"/><path d="M136.55 362.6V345.74Q136.55 345.14 137.15 345.14H140.85Q141.45 345.14 141.45 345.74V362.6" fill="url(#pdiag)" stroke="#111" stroke-width="1.5"/><path d="M144.9 362.6V342.35Q144.9 341.75 145.5 341.75H149.2Q149.8 341.75 149.8 342.35V362.6" fill="url(#cx10)" stroke="#111" stroke-width="1.5"/><path d="M153.25 362.6V335.21Q153.25 334.61 153.85 334.61H157.55Q158.15 334.61 158.15 335.21V362.6" fill="url(#phstr)" stroke="#111" stroke-width="1.5"/><path d="M166.75 362.6V354.8Q166.75 354.2 167.35 354.2H171.05Q171.65 354.2 171.65 354.8V362.6" fill="#fff" stroke="#111" stroke-width="1.5"/><path d="M175.1 362.6V351.32Q175.1 350.72 175.7 350.72H179.4Q180 350.72 180 351.32V362.6" fill="#111" stroke="#111" stroke-width="1.5"/><path d="M183.45 362.6V336.77Q183.45 336.17 184.05 336.17H187.75Q188.35 336.17 188.35 336.77V362.6" fill="url(#pdiag)" stroke="#111" stroke-width="1.5"/><path d="M191.8 362.6V325.51Q191.8 324.91 192.4 324.91H196.1Q196.7 324.91 196.7 325.51V362.6" fill="url(#cx11)" stroke="#111" stroke-width="1.5"/><path d="M200.15 362.6V314.07Q200.15 313.47 200.75 313.47H204.45Q205.05 313.47 205.05 314.07V362.6" fill="url(#phstr)" stroke="#111" stroke-width="1.5"/><path d="M213.55 362.6V354.52Q213.55 353.92 214.15 353.92H217.85Q218.45 353.92 218.45 354.52V362.6" fill="#fff" stroke="#111" stroke-width="1.5"/><path d="M221.9 362.6V345.46Q221.9 344.86 222.5 344.86H226.2Q226.8 344.86 226.8 345.46V362.6" fill="#111" stroke="#111" stroke-width="1.5"/><path d="M230.25 362.6V333.47Q230.25 332.87 230.85 332.87H234.55Q235.15 332.87 235.15 333.47V362.6" fill="url(#pdiag)" stroke="#111" stroke-width="1.5"/><path d="M241.05 317.2V314.09" stroke="#111" stroke-width="1.5"/><path d="M238.85 314.09H243.25" stroke="#111" stroke-width="1.5"/><path d="M238.6 362.6V318.55Q238.6 317.95 239.2 317.95H242.9Q243.5 317.95 243.5 318.55V362.6" fill="url(#cx12)" stroke="#111" stroke-width="1.5"/><path d="M249.4 277.29V274.91" stroke="#111" stroke-width="1.5"/><path d="M247.2 274.91H251.6" stroke="#111" stroke-width="1.5"/><path d="M246.95 362.6V278.64Q246.95 278.04 247.55 278.04H251.25Q251.85 278.04 251.85 278.64V362.6" fill="url(#phstr)" stroke="#111" stroke-width="1.5"/><path d="M68.8 224.81V363.5" stroke="#111" stroke-width="1.8"/><path d="M67.9 362.6H259.4" stroke="#111" stroke-width="1.8"/><path d="M66 362.6H68.8" stroke="#111" stroke-width="1.3"/><text x="65" y="366" text-anchor="end" font-size="9.6" stroke="#111" stroke-width="0.4" fill="#111">0</text><path d="M66 316.84H68.8" stroke="#111" stroke-width="1.3"/><text x="65" y="320.24" text-anchor="end" font-size="9.6" stroke="#111" stroke-width="0.4" fill="#111">5</text><path d="M66 271.07H68.8" stroke="#111" stroke-width="1.3"/><text x="65" y="274.47" text-anchor="end" font-size="9.6" stroke="#111" stroke-width="0.4" fill="#111">10</text><path d="M66 225.31H68.8" stroke="#111" stroke-width="1.3"/><text x="65" y="228.71" text-anchor="end" font-size="9.6" stroke="#111" stroke-width="0.4" fill="#111">15</text><path d="M92.2 362.6V366.9" stroke="#111" stroke-width="1.3"/><text x="92.2" y="376.4" text-anchor="middle" font-size="9.8" font-weight="bold" fill="#111">1d</text><path d="M139 362.6V366.9" stroke="#111" stroke-width="1.3"/><text x="139" y="376.4" text-anchor="middle" font-size="9.8" font-weight="bold" fill="#111">7d</text><path d="M185.9 362.6V366.9" stroke="#111" stroke-width="1.3"/><text x="185.9" y="376.4" text-anchor="middle" font-size="9.8" font-weight="bold" fill="#111">14d</text><path d="M232.7 362.6V366.9" stroke="#111" stroke-width="1.3"/><text x="232.7" y="376.4" text-anchor="middle" font-size="9.8" font-weight="bold" fill="#111">21d</text><text transform="translate(48.8 298.6) rotate(-90)" text-anchor="middle" font-size="10.5" font-weight="bold" fill="#111">mRNA Expression Level</text><path d="M71.8 349.6V345.6H83.6V349.6" fill="none" stroke="#111" stroke-width="1.6" stroke-linejoin="round" stroke-linecap="round"/><polygon points="77.7,338.65 78.3,340.37 80.13,340.41 78.67,341.52 79.2,343.26 77.7,342.22 76.2,343.26 76.73,341.52 75.27,340.41 77.1,340.37" fill="#333" stroke="#222" stroke-width="0.5"/><path d="M77.1 337.7V333H90V337.7" fill="none" stroke="#111" stroke-width="1.6" stroke-linejoin="round" stroke-linecap="round"/><polygon points="83.55,326.05 84.15,327.77 85.98,327.81 84.52,328.92 85.05,330.66 83.55,329.62 82.05,330.66 82.58,328.92 81.12,327.81 82.95,327.77" fill="#333" stroke="#222" stroke-width="0.5"/><path d="M119.2 348.5V344.8H132.2V348.5" fill="none" stroke="#111" stroke-width="1.6" stroke-linejoin="round" stroke-linecap="round"/><polygon points="121.4,337.85 122,339.57 123.83,339.61 122.37,340.72 122.9,342.46 121.4,341.42 119.9,342.46 120.43,340.72 118.97,339.61 120.8,339.57" fill="#333" stroke="#222" stroke-width="0.5"/><polygon points="125.7,337.85 126.3,339.57 128.13,339.61 126.67,340.72 127.2,342.46 125.7,341.42 124.2,342.46 124.73,340.72 123.27,339.61 125.1,339.57" fill="#333" stroke="#222" stroke-width="0.5"/><polygon points="130,337.85 130.6,339.57 132.43,339.61 130.97,340.72 131.5,342.46 130,341.42 128.5,342.46 129.03,340.72 127.57,339.61 129.4,339.57" fill="#333" stroke="#222" stroke-width="0.5"/><path d="M125.6 337.1V333H139.3V337.1" fill="none" stroke="#111" stroke-width="1.6" stroke-linejoin="round" stroke-linecap="round"/><polygon points="132.45,326.05 133.05,327.77 134.88,327.81 133.42,328.92 133.95,330.66 132.45,329.62 130.95,330.66 131.48,328.92 130.02,327.81 131.85,327.77" fill="#333" stroke="#222" stroke-width="0.5"/><path d="M134.4 323.3V319.3H147.8V323.3" fill="none" stroke="#111" stroke-width="1.6" stroke-linejoin="round" stroke-linecap="round"/><polygon points="141.1,312.35 141.7,314.07 143.53,314.11 142.07,315.22 142.6,316.96 141.1,315.92 139.6,316.96 140.13,315.22 138.67,314.11 140.5,314.07" fill="#333" stroke="#222" stroke-width="0.5"/><path d="M141.6 311V307.5H158.9V311" fill="none" stroke="#111" stroke-width="1.6" stroke-linejoin="round" stroke-linecap="round"/><polygon points="145.95,300.55 146.55,302.27 148.38,302.31 146.92,303.42 147.45,305.16 145.95,304.12 144.45,305.16 144.98,303.42 143.52,302.31 145.35,302.27" fill="#333" stroke="#222" stroke-width="0.5"/><polygon points="150.25,300.55 150.85,302.27 152.68,302.31 151.22,303.42 151.75,305.16 150.25,304.12 148.75,305.16 149.28,303.42 147.82,302.31 149.65,302.27" fill="#333" stroke="#222" stroke-width="0.5"/><polygon points="154.55,300.55 155.15,302.27 156.98,302.31 155.52,303.42 156.05,305.16 154.55,304.12 153.05,305.16 153.58,303.42 152.12,302.31 153.95,302.27" fill="#333" stroke="#222" stroke-width="0.5"/><path d="M166.6 348.1V344.5H178.9V348.1" fill="none" stroke="#111" stroke-width="1.6" stroke-linejoin="round" stroke-linecap="round"/><polygon points="168.45,337.55 169.05,339.27 170.88,339.31 169.42,340.42 169.95,342.16 168.45,341.12 166.95,342.16 167.48,340.42 166.02,339.31 167.85,339.27" fill="#333" stroke="#222" stroke-width="0.5"/><polygon points="172.75,337.55 173.35,339.27 175.18,339.31 173.72,340.42 174.25,342.16 172.75,341.12 171.25,342.16 171.78,340.42 170.32,339.31 172.15,339.27" fill="#333" stroke="#222" stroke-width="0.5"/><polygon points="177.05,337.55 177.65,339.27 179.48,339.31 178.02,340.42 178.55,342.16 177.05,341.12 175.55,342.16 176.08,340.42 174.62,339.31 176.45,339.27" fill="#333" stroke="#222" stroke-width="0.5"/><path d="M171.9 333.3V329.3H185.9V333.3" fill="none" stroke="#111" stroke-width="1.6" stroke-linejoin="round" stroke-linecap="round"/><polygon points="174.6,322.35 175.2,324.07 177.03,324.11 175.57,325.22 176.1,326.96 174.6,325.92 173.1,326.96 173.63,325.22 172.17,324.11 174,324.07" fill="#333" stroke="#222" stroke-width="0.5"/><polygon points="178.9,322.35 179.5,324.07 181.33,324.11 179.87,325.22 180.4,326.96 178.9,325.92 177.4,326.96 177.93,325.22 176.47,324.11 178.3,324.07" fill="#333" stroke="#222" stroke-width="0.5"/><polygon points="183.2,322.35 183.8,324.07 185.63,324.11 184.17,325.22 184.7,326.96 183.2,325.92 181.7,326.96 182.23,325.22 180.77,324.11 182.6,324.07" fill="#333" stroke="#222" stroke-width="0.5"/><path d="M176.4 320.4V315.9H194.7V320.4" fill="none" stroke="#111" stroke-width="1.6" stroke-linejoin="round" stroke-linecap="round"/><polygon points="183.4,308.95 184,310.67 185.83,310.71 184.37,311.82 184.9,313.56 183.4,312.52 181.9,313.56 182.43,311.82 180.97,310.71 182.8,310.67" fill="#333" stroke="#222" stroke-width="0.5"/><polygon points="187.7,308.95 188.3,310.67 190.13,310.71 188.67,311.82 189.2,313.56 187.7,312.52 186.2,313.56 186.73,311.82 185.27,310.71 187.1,310.67" fill="#333" stroke="#222" stroke-width="0.5"/><path d="M182.3 307V303H203V307" fill="none" stroke="#111" stroke-width="1.6" stroke-linejoin="round" stroke-linecap="round"/><polygon points="190.5,296.05 191.1,297.77 192.93,297.81 191.47,298.92 192,300.66 190.5,299.62 189,300.66 189.53,298.92 188.07,297.81 189.9,297.77" fill="#333" stroke="#222" stroke-width="0.5"/><polygon points="194.8,296.05 195.4,297.77 197.23,297.81 195.77,298.92 196.3,300.66 194.8,299.62 193.3,300.66 193.83,298.92 192.37,297.81 194.2,297.77" fill="#333" stroke="#222" stroke-width="0.5"/><path d="M211.4 341.7V337.7H224.7V341.7" fill="none" stroke="#111" stroke-width="1.6" stroke-linejoin="round" stroke-linecap="round"/><polygon points="215.9,330.75 216.5,332.47 218.33,332.51 216.87,333.62 217.4,335.36 215.9,334.32 214.4,335.36 214.93,333.62 213.47,332.51 215.3,332.47" fill="#333" stroke="#222" stroke-width="0.5"/><polygon points="220.2,330.75 220.8,332.47 222.63,332.51 221.17,333.62 221.7,335.36 220.2,334.32 218.7,335.36 219.23,333.62 217.77,332.51 219.6,332.47" fill="#333" stroke="#222" stroke-width="0.5"/><path d="M218.8 327.4V323H232.1V327.4" fill="none" stroke="#111" stroke-width="1.6" stroke-linejoin="round" stroke-linecap="round"/><polygon points="221.15,316.05 221.75,317.77 223.58,317.81 222.12,318.92 222.65,320.66 221.15,319.62 219.65,320.66 220.18,318.92 218.72,317.81 220.55,317.77" fill="#333" stroke="#222" stroke-width="0.5"/><polygon points="225.45,316.05 226.05,317.77 227.88,317.81 226.42,318.92 226.95,320.66 225.45,319.62 223.95,320.66 224.48,318.92 223.02,317.81 224.85,317.77" fill="#333" stroke="#222" stroke-width="0.5"/><polygon points="229.75,316.05 230.35,317.77 232.18,317.81 230.72,318.92 231.25,320.66 229.75,319.62 228.25,320.66 228.78,318.92 227.32,317.81 229.15,317.77" fill="#333" stroke="#222" stroke-width="0.5"/><path d="M223.3 311.9V307.5H240V311.9" fill="none" stroke="#111" stroke-width="1.6" stroke-linejoin="round" stroke-linecap="round"/><polygon points="231.65,300.55 232.25,302.27 234.08,302.31 232.62,303.42 233.15,305.16 231.65,304.12 230.15,305.16 230.68,303.42 229.22,302.31 231.05,302.27" fill="#333" stroke="#222" stroke-width="0.5"/><path d="M227.7 272.8V268.3H248.9V272.8" fill="none" stroke="#111" stroke-width="1.6" stroke-linejoin="round" stroke-linecap="round"/><polygon points="234,261.35 234.6,263.07 236.43,263.11 234.97,264.22 235.5,265.96 234,264.92 232.5,265.96 233.03,264.22 231.57,263.11 233.4,263.07" fill="#333" stroke="#222" stroke-width="0.5"/><polygon points="238.3,261.35 238.9,263.07 240.73,263.11 239.27,264.22 239.8,265.96 238.3,264.92 236.8,265.96 237.33,264.22 235.87,263.11 237.7,263.07" fill="#333" stroke="#222" stroke-width="0.5"/><polygon points="242.6,261.35 243.2,263.07 245.03,263.11 243.57,264.22 244.1,265.96 242.6,264.92 241.1,265.96 241.63,264.22 240.17,263.11 242,263.07" fill="#333" stroke="#222" stroke-width="0.5"/><text x="163.5" y="209" text-anchor="middle" fill="#111" font-size="12.8" stroke="#111" stroke-width="0.3">Smad 3</text><rect x="272.05" y="231.15" width="13.1" height="7.3" fill="#fff" stroke="#111" stroke-width="1.5"/><text x="293.3" y="238.6" fill="#111" font-size="10.3" font-weight="bold">Control-</text><rect x="272.05" y="247.1" width="13.1" height="7.3" fill="#111" stroke="#111" stroke-width="1.5"/><text x="293.3" y="254.55" fill="#111" font-size="10.3" font-weight="bold">Control+</text><rect x="272.05" y="263.05" width="13.1" height="7.3" fill="url(#pldiag)" stroke="#111" stroke-width="1.5"/><text x="293.3" y="270.5" fill="#111" font-size="10.3" font-weight="bold">CaSiO<tspan font-size="7.5" dy="2.5">3</tspan></text><rect x="272.05" y="279" width="13.1" height="7.3" fill="url(#plcross)" stroke="#111" stroke-width="1.5"/><text x="293.3" y="286.45" fill="#111" font-size="10.3" font-weight="bold">Zn-Ca 0.1</text><rect x="272.05" y="294.95" width="13.1" height="7.3" fill="url(#plhstr)" stroke="#111" stroke-width="1.5"/><text x="293.3" y="302.4" fill="#111" font-size="10.3" font-weight="bold">Zn-Ca 0.3</text>
<rect x="165.8" y="476.2" width="278.6" height="39.6" fill="url(#g1)"/><rect x="165.8" y="522.4" width="278.6" height="40.5" fill="url(#g2)"/><rect x="165.8" y="567.2" width="278.6" height="35.6" fill="url(#g3)"/><rect x="165.8" y="567.2" width="278.6" height="35.6" fill="url(#h3)"/><rect x="165.8" y="522.4" width="278.6" height="40.5" fill="url(#h2)"/><g filter="url(#blur1)"><rect x="170" y="500.25" width="17" height="3.5" rx="1.75" fill="#acacac"/><rect x="193.5" y="498.25" width="22.5" height="7.5" rx="3.75" fill="#000000"/><rect x="225" y="500.5" width="15" height="3" rx="1.5" fill="#bebebe"/><rect x="249" y="499.1" width="24.5" height="5" rx="2.5" fill="#747474"/><rect x="281" y="498.4" width="19.5" height="5" rx="2.5" fill="#3c3c3c"/><rect x="305.5" y="495.8" width="23" height="8" rx="4" fill="#000000"/><rect x="333.5" y="496.4" width="15.5" height="4.6" rx="2.3" fill="#282828"/><rect x="354.4" y="493.85" width="29.6" height="9.3" rx="4.65" fill="#000000"/><rect x="387.1" y="496.1" width="15.1" height="5.4" rx="2.7" fill="#101010"/><rect x="405" y="494.25" width="35" height="10.5" rx="5.25" fill="#000000"/><rect x="170" y="543.3" width="17.3" height="5" rx="2.5" fill="#9c9c9c"/><rect x="193.5" y="542.35" width="25.5" height="5.5" rx="2.75" fill="#a0a0a0"/><rect x="226" y="543.5" width="16" height="4" rx="2" fill="#b4b4b4"/><rect x="247" y="542.3" width="27" height="5" rx="2.5" fill="#a0a0a0"/><rect x="281.6" y="542.5" width="14.9" height="4" rx="2" fill="#b4b4b4"/><rect x="302.5" y="540.15" width="24.8" height="5.5" rx="2.75" fill="#989898"/><rect x="332.3" y="540.3" width="21" height="5" rx="2.5" fill="#989898"/><rect x="357.6" y="538.95" width="26.8" height="6.5" rx="3.25" fill="#747474"/><rect x="386.4" y="538.75" width="20.3" height="5.5" rx="2.75" fill="#787878"/><rect x="409.2" y="536.65" width="32.2" height="7.5" rx="3.75" fill="#4c4c4c"/><rect x="172.4" y="585.2" width="19.9" height="6" rx="3" fill="#646464"/><rect x="198.5" y="585.2" width="22.3" height="6" rx="3" fill="#646464"/><rect x="225" y="585" width="21.8" height="6" rx="3" fill="#646464"/><rect x="252.3" y="585.05" width="25.6" height="5.5" rx="2.75" fill="#747474"/><rect x="283.6" y="583.65" width="22.8" height="5.5" rx="2.75" fill="#686868"/><rect x="310" y="581.95" width="19.8" height="5.5" rx="2.75" fill="#505050"/><rect x="334.7" y="581" width="20.4" height="6" rx="3" fill="#444444"/><rect x="360" y="579.9" width="23.1" height="6" rx="3" fill="#383838"/><rect x="386.8" y="579.2" width="21.1" height="6" rx="3" fill="#383838"/><rect x="412.9" y="579.45" width="29.3" height="5.5" rx="2.75" fill="#505050"/></g><text x="157.5" y="500.8" text-anchor="end" font-size="13.5" fill="#111" stroke="#111" stroke-width="0.4">Smad 2/3</text><text x="157.5" y="541.9" text-anchor="end" font-size="13" fill="#111" stroke="#111" stroke-width="0.4">P-Smad 2/3</text><text x="157.5" y="587.7" text-anchor="end" font-size="13" fill="#111" stroke="#111" stroke-width="0.4">GAPDH</text><text x="157.9" y="474" text-anchor="end" font-size="13.2" fill="#111" stroke="#111" stroke-width="0.4">SB431542 (10 uM)</text><text x="180.3" y="473" text-anchor="middle" font-size="12" font-weight="bold" fill="#111">+</text><rect x="205" y="467.6" width="3" height="1.5" fill="#333"/><text x="235.7" y="473" text-anchor="middle" font-size="12" font-weight="bold" fill="#111">+</text><rect x="257.2" y="467.6" width="3" height="1.5" fill="#333"/><text x="291.5" y="473" text-anchor="middle" font-size="12" font-weight="bold" fill="#111">+</text><rect x="312.8" y="467.6" width="3" height="1.5" fill="#333"/><text x="343.4" y="473" text-anchor="middle" font-size="12" font-weight="bold" fill="#111">+</text><rect x="368.4" y="467.6" width="3" height="1.5" fill="#333"/><text x="396" y="473" text-anchor="middle" font-size="12" font-weight="bold" fill="#111">+</text><rect x="417" y="467.6" width="3" height="1.5" fill="#333"/><text transform="translate(197.7 457.8) rotate(-43)" font-size="13.0" font-weight="bold" fill="#111">Control+</text><text transform="translate(249.4 458.1) rotate(-43)" font-size="12.9" font-weight="bold" fill="#111">Control-</text><text transform="translate(303.9 453.4) rotate(-43)" font-size="12.3" font-weight="bold" fill="#111">CaSiO<tspan font-size="8.5" dy="2">3</tspan></text><text transform="translate(353.3 449.6) rotate(-43)" font-size="12.4" font-weight="bold" fill="#111">Zn-Ca 0.1</text><text transform="translate(409.5 450) rotate(-43)" font-size="12.5" font-weight="bold" fill="#111">Zn-Ca 0.3</text>
</svg>
</body></html>
